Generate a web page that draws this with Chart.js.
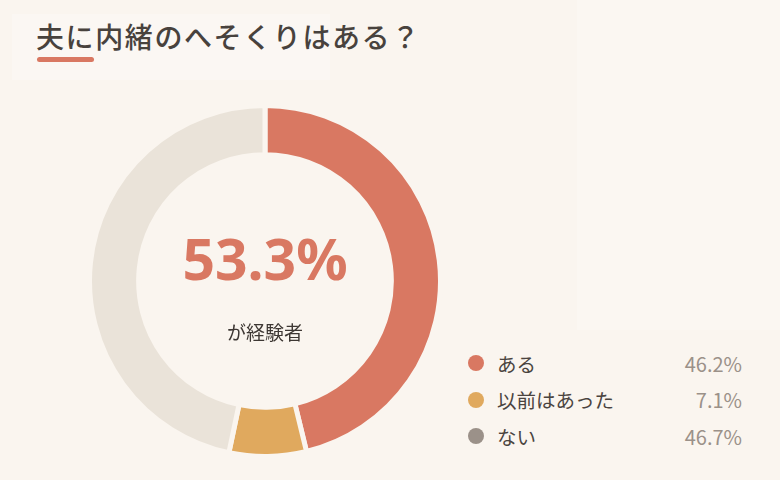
<!DOCTYPE html>
<html lang="ja">
<head>
<meta charset="utf-8">
<script src="https://cdn.jsdelivr.net/npm/chart.js@4.4.1/dist/chart.umd.min.js"></script>
<style>
  html, body { margin: 0; padding: 0; }
  body {
    width: 780px; height: 480px; overflow: hidden; position: relative;
    background: #faf5ef;
    font-family: "Noto Sans CJK JP", "Noto Sans", sans-serif;
  }
  .panel { position: absolute; background: #fbf8f4; }
  h1 {
    position: absolute; left: 36px; top: 16px; margin: 0;
    font-size: 28px; font-weight: 500; color: #48423d; letter-spacing: 1.6px;
    white-space: nowrap;
  }
  .accent {
    position: absolute; left: 37px; top: 57px; width: 57px; height: 5px;
    border-radius: 3px; background: #d97862;
  }
  #wrap { position: absolute; left: 87px; top: 103px; width: 356px; height: 356px; }
  #legend { position: absolute; left: 468px; top: 345px; width: 274px; }
  .row { display: flex; align-items: center; height: 36.5px; font-size: 19.5px; }
  .dot { width: 16px; height: 16px; border-radius: 50%; margin-right: 13px; }
  .lab { color: #4a4440; flex: 1; }
  .val { color: #9b9189; text-align: right; font-size: 20px; }
</style>
</head>
<body>
<div class="panel" style="left:12px;top:14px;width:318px;height:66px;background:#fbf7f3"></div>
<div class="panel" style="left:577px;top:0;width:203px;height:330px;background:#fbf7f2"></div>
<h1>夫に内緒のへそくりはある？</h1>
<div class="accent"></div>
<div id="wrap"><canvas id="chart"></canvas></div>
<div id="legend"></div>
<script>
const labels = ['ある', '以前はあった', 'ない'];
const values = [46.2, 7.1, 46.7];
const ringColors = ['#d97862', '#e0a95e', '#eae3d9'];
const dotColors = ['#d97862', '#e0a95e', '#9b9189'];
const centerValue = '53.3%';
const centerCaption = 'が経験者';

const centerText = {
  id: 'centerText',
  afterDraw(chart) {
    const { ctx } = chart;
    const meta = chart.getDatasetMeta(0).data[0];
    const x = meta.x, y = meta.y;
    ctx.save();
    ctx.textAlign = 'center';
    ctx.textBaseline = 'middle';
    ctx.fillStyle = '#d97862';
    ctx.font = 'bold 57px "Noto Sans", "Noto Sans CJK JP", sans-serif';
    ctx.fillText(centerValue, x, y - 17);
    ctx.fillStyle = '#3d3733';
    ctx.font = '19px "Noto Sans CJK JP", sans-serif';
    ctx.fillText(centerCaption, x, y + 52);
    ctx.restore();
  }
};

new Chart(document.getElementById('chart'), {
  type: 'doughnut',
  data: {
    labels: labels,
    datasets: [{
      data: values,
      backgroundColor: ringColors,
      borderColor: '#faf5ef',
      borderWidth: 5,
      hoverOffset: 0
    }]
  },
  options: {
    responsive: true,
    maintainAspectRatio: false,
    animation: false,
    cutout: '72%',
    layout: { padding: 0 },
    plugins: {
      legend: { display: false },
      tooltip: { enabled: false }
    }
  },
  plugins: [centerText]
});

// legend with percentages
const legend = document.getElementById('legend');
labels.forEach((l, i) => {
  const row = document.createElement('div');
  row.className = 'row';
  row.innerHTML = '<span class="dot" style="background:' + dotColors[i] + '"></span>' +
    '<span class="lab">' + l + '</span><span class="val">' + values[i].toFixed(1) + '%</span>';
  legend.appendChild(row);
});
</script>
</body>
</html>
